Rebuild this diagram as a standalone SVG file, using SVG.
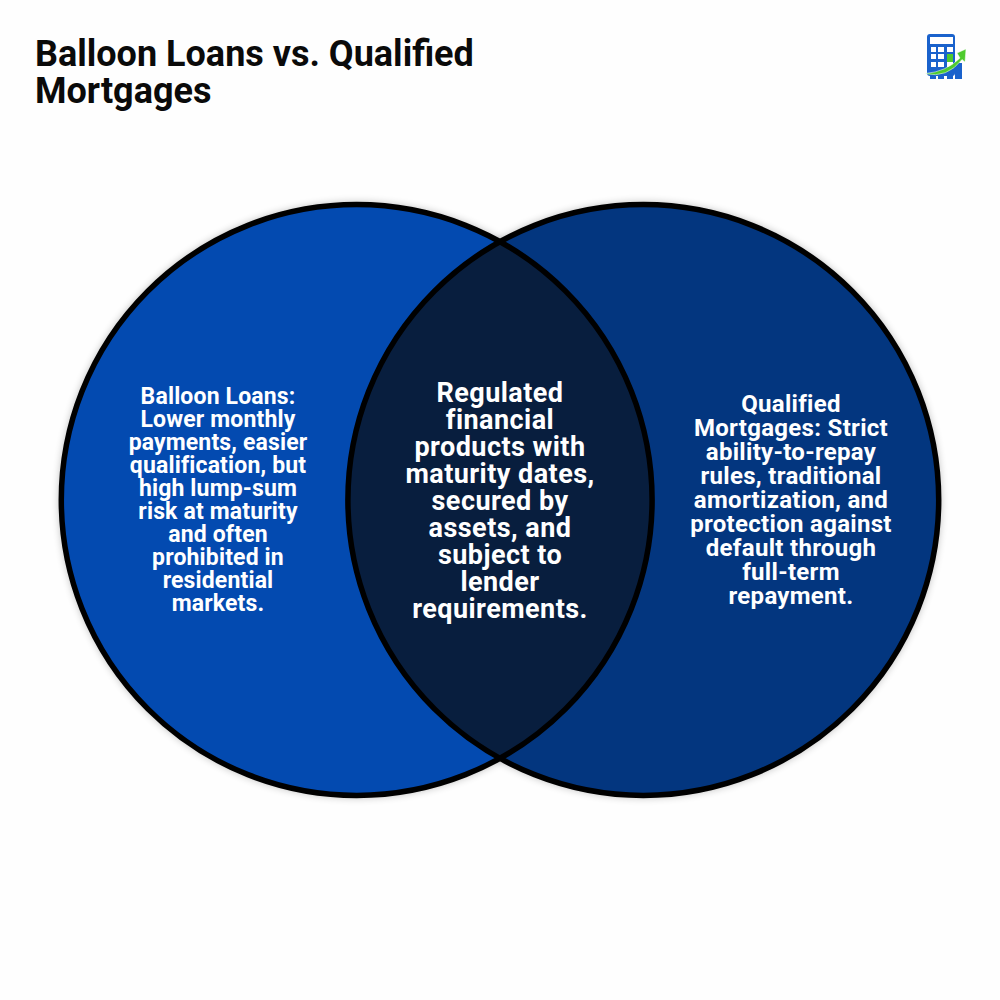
<svg xmlns="http://www.w3.org/2000/svg" width="1000" height="1000" viewBox="0 0 1000 1000">
<style>
text{font-family:Roboto,"Liberation Sans",sans-serif;font-weight:700}
.t{font-size:36px;fill:#0a0a0a}
.l{font-size:23px;letter-spacing:.15px;fill:#fff;text-anchor:middle}
.r{font-size:24px;letter-spacing:.3px;fill:#fff;text-anchor:middle}
.c{font-size:27px;letter-spacing:.45px;fill:#fff;text-anchor:middle}
.o{fill:none;stroke:#000;stroke-width:5.500}
.k{fill:#1a62cc}
</style>
<defs>
<clipPath id="lc"><circle cx="356.700" cy="500" r="295.400"/></clipPath>
<filter id="sh" x="-10%" y="-10%" width="120%" height="120%"><feGaussianBlur stdDeviation="4"/></filter>
</defs>
<rect width="1000" height="1000" fill="#fefefe"/>
<g id="title"><text class="t" x="35" y="65.500">Balloon Loans vs. Qualified</text><text class="t" x="35" y="102.500">Mortgages</text></g>
<g id="logo">
<rect x="927" y="34" width="28" height="42" rx="3" class="k"/>
<rect x="930" y="37" width="23" height="7" fill="#fff"/>
<g fill="#fff"><rect x="931" y="47" width="5" height="5"/><rect x="938" y="47" width="6" height="5"/><rect x="947" y="47" width="6" height="5"/><rect x="931" y="54" width="5" height="5"/><rect x="938" y="54" width="6" height="5"/><rect x="931" y="62" width="5" height="5"/><rect x="938" y="62" width="6" height="5"/><rect x="947" y="62" width="6" height="5"/></g>
<rect x="947" y="54" width="6" height="8" fill="#4ecb2e"/>
<rect x="930" y="75" width="6" height="4" class="k"/><rect x="938" y="73" width="6" height="6" class="k"/><rect x="947" y="70" width="6" height="9" class="k"/><rect x="955" y="63" width="7" height="16" class="k"/>
<path d="M925 73.500Q946 72 960 58L957 53L966 49L965 62L962 59.500Q947 79 925 73.500Z" fill="#4ecb2e" stroke="#fff" stroke-width=".5"/>
</g>
<g id="venn">
<circle cx="356.700" cy="500" r="297" fill="#000" opacity=".3" filter="url(#sh)"/>
<circle cx="643.300" cy="500" r="297" fill="#000" opacity=".3" filter="url(#sh)"/>
<circle id="left" cx="356.700" cy="500" r="295.400" fill="#034ab0"/>
<circle id="right" cx="643.300" cy="500" r="295.400" fill="#03367f"/>
<circle id="overlap" cx="643.300" cy="500" r="295.400" fill="#081e3e" clip-path="url(#lc)"/>
<circle class="o" cx="356.700" cy="500" r="295.400"/>
<circle class="o" cx="643.300" cy="500" r="295.400"/>
</g>
<g id="left-label">
<text class="l" x="218" y="404">Balloon Loans:</text><text class="l" x="218" y="427">Lower monthly</text><text class="l" x="218" y="450">payments, easier</text><text class="l" x="218" y="473">qualification, but</text><text class="l" x="218" y="496">high lump-sum</text><text class="l" x="218" y="519">risk at maturity</text><text class="l" x="218" y="542">and often</text><text class="l" x="218" y="565">prohibited in</text><text class="l" x="218" y="588">residential</text><text class="l" x="218" y="611">markets.</text>
</g>
<g id="center-label">
<text class="c" x="500" y="401.500">Regulated</text><text class="c" x="500" y="428.500">financial</text><text class="c" x="500" y="455.500">products with</text><text class="c" x="500" y="482.500">maturity dates,</text><text class="c" x="500" y="509.500">secured by</text><text class="c" x="500" y="536.500">assets, and</text><text class="c" x="500" y="563.500">subject to</text><text class="c" x="500" y="590.500">lender</text><text class="c" x="500" y="617.500">requirements.</text>
</g>
<g id="right-label">
<text class="r" x="791" y="412">Qualified</text><text class="r" x="791" y="436">Mortgages: Strict</text><text class="r" x="791" y="460">ability-to-repay</text><text class="r" x="791" y="484">rules, traditional</text><text class="r" x="791" y="508">amortization, and</text><text class="r" x="791" y="532">protection against</text><text class="r" x="791" y="556">default through</text><text class="r" x="791" y="580">full-term</text><text class="r" x="791" y="604">repayment.</text>
</g>
</svg>
